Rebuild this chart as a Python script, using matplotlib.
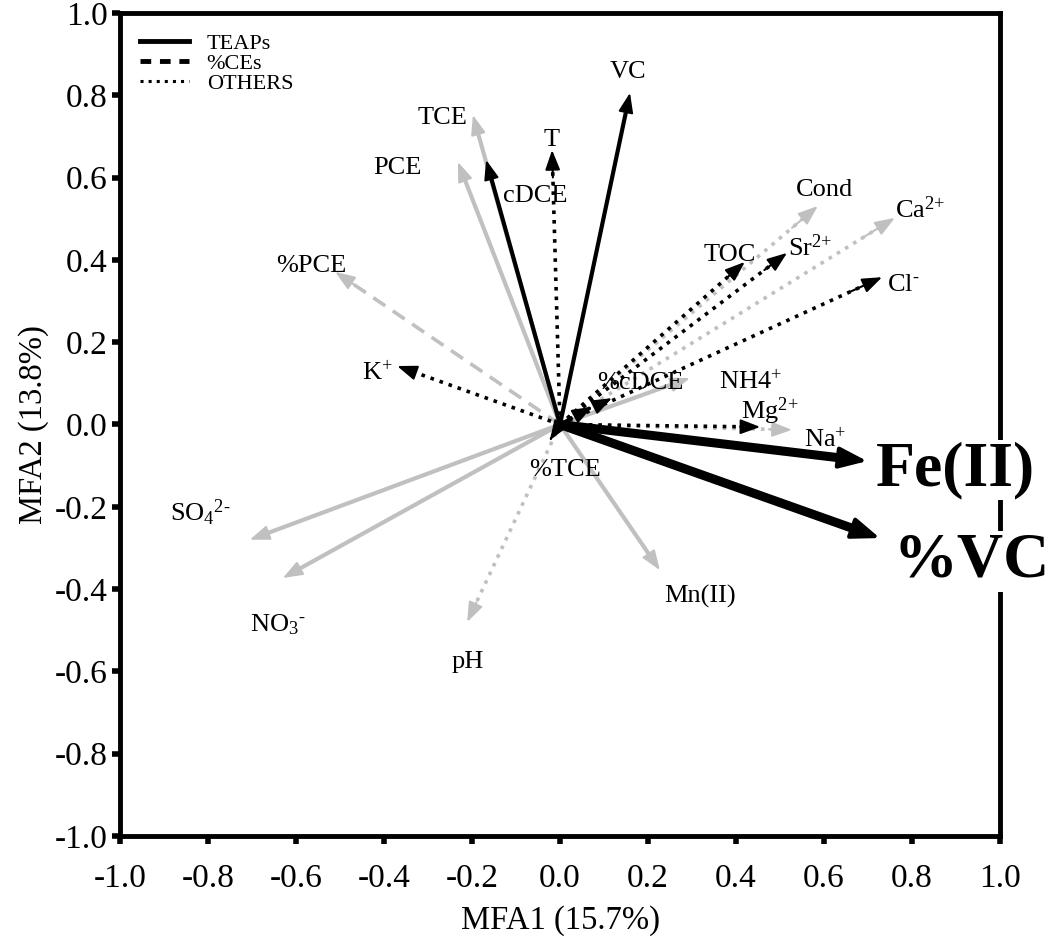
import matplotlib
matplotlib.use('Agg')
import matplotlib.pyplot as plt
from matplotlib.lines import Line2D

plt.rcParams['font.family'] = ['Liberation Serif', 'DejaVu Serif']
plt.rcParams['mathtext.fontset'] = 'custom'
plt.rcParams['mathtext.rm'] = 'Liberation Serif'
plt.rcParams['mathtext.default'] = 'regular'

# 變數名稱、座標 (MFA1, MFA2)、樣式
names = ['VC', 'cDCE', 'Fe(II)', '%VC',
         'TCE', 'PCE', 'NH4$^{\\text{+}}$', 'SO$_4$$^{\\text{2-}}$', 'NO$_3$$^{\\text{-}}$', 'Mn(II)',
         'T', 'K$^{\\text{+}}$', 'TOC', 'Sr$^{\\text{2+}}$', 'Cl$^{\\text{-}}$', 'Mg$^{\\text{2+}}$',
         '%cDCE', '',
         'Cond', 'Ca$^{\\text{2+}}$', 'Na$^{\\text{+}}$', 'pH',
         '%PCE', '%TCE']
mfa1 = [0.159, -0.168, 0.698, 0.727,
        -0.198, -0.232, 0.295, -0.705, -0.630, 0.227,
        -0.018, -0.370, 0.420, 0.516, 0.732, 0.455, 0.118, 0.073,
        0.586, 0.761, 0.527, -0.211,
        -0.511, -0.023]
mfa2 = [0.806, 0.643, -0.089, -0.276,
        0.752, 0.638, 0.113, -0.280, -0.373, -0.354,
        0.667, 0.142, 0.395, 0.417, 0.358, -0.006, 0.064, 0.043,
        0.531, 0.502, -0.013, -0.480,
        0.371, -0.038]
styles = ['kS', 'kS', 'kB', 'kB',
          'gS', 'gS', 'gS', 'gS', 'gS', 'gS',
          'kD', 'kD', 'kD', 'kD', 'kD', 'kD', 'kD', 'kA',
          'gD', 'gD', 'gD', 'gD',
          'gA', 'kA']

# 標籤位置
label_xy = [(0.155, 0.857), (-0.057, 0.555), (0.898, -0.111), (0.935, -0.333),
            (-0.268, 0.745), (-0.37, 0.623), (0.432, 0.102), (-0.818, -0.215),
            (-0.641, -0.487), (0.318, -0.419),
            (-0.018, 0.691), (-0.414, 0.125), (0.386, 0.412), (0.568, 0.429),
            (0.78, 0.339), (0.477, 0.033), (0.182, 0.101), None,
            (0.602, 0.57), (0.818, 0.521), (0.602, -0.038), (-0.209, -0.577),
            (-0.566, 0.385), (0.011, -0.111)]

GREY = '#c0c0c0'

fig = plt.figure(figsize=(10.5, 9.41), dpi=100)
ax = fig.add_axes([0.1143, 0.1116, 0.8381, 0.8746])

for x, y, st in zip(mfa1, mfa2, styles):
    color = 'black' if st[0] == 'k' else GREY
    kind = st[1]
    lw = {'S': 3.0, 'B': 6.5, 'D': 2.6, 'A': 2.6}[kind]
    ls = {'S': '-', 'B': '-', 'D': ':', 'A': (0, (4, 2.5))}[kind]
    z = 3 if color == 'black' else 2
    # 箭桿
    f = 0.94 if kind != 'B' else 0.93
    ax.plot([0, x * f], [0, y * f], color=color, lw=lw, ls=ls,
            solid_capstyle='butt', zorder=z)
    # 箭頭
    hl = 1.2 if kind != 'B' else 1.7
    hw = 0.45 if kind != 'B' else 0.65
    ax.annotate('', xy=(x, y), xytext=(x * 0.9, y * 0.9),
                arrowprops=dict(arrowstyle=f'-|>,head_length={hl},head_width={hw}',
                                color=color, lw=1.5 if kind != 'B' else 3,
                                shrinkA=0, shrinkB=0),
                zorder=z)

for nm, pos in zip(names, label_xy):
    if pos is None:
        continue
    if nm in ('Fe(II)', '%VC'):
        ax.text(pos[0], pos[1], nm, fontsize=46, fontweight='bold', ha='center',
                va='center', zorder=6, clip_on=False,
                bbox=dict(facecolor='white', edgecolor='none', pad=1))
    else:
        ax.text(pos[0], pos[1], nm, fontsize=19, ha='center', va='center', zorder=5)

ax.set_xlim(-1, 1)
ax.set_ylim(-1, 1)
ticks = [-1.0, -0.8, -0.6, -0.4, -0.2, 0.0, 0.2, 0.4, 0.6, 0.8, 1.0]
ax.set_xticks(ticks)
ax.set_yticks(ticks)
ax.set_xticklabels([f'{t:.1f}' for t in ticks])
ax.set_yticklabels([f'{t:.1f}' for t in ticks])
ax.tick_params(direction='out', length=6, width=4, labelsize=24)
ax.tick_params(axis='x', pad=14)
ax.tick_params(axis='y', pad=3)
for s in ax.spines.values():
    s.set_linewidth(3.5)
    s.set_zorder(4)
ax.set_xlabel('MFA1 (15.7%)', fontsize=23.5, labelpad=8)
ax.set_ylabel('MFA2 (13.8%)', fontsize=23.5, labelpad=4)

handles = [Line2D([], [], color='black', lw=3.5, ls='-'),
           Line2D([], [], color='black', lw=3.5, ls=(0, (2.2, 1.8))),
           Line2D([], [], color='black', lw=2.2, ls=':')]
ax.legend(handles, ['TEAPs', '%CEs', 'OTHERS'], loc='upper left', frameon=False,
          fontsize=16, handlelength=2.2, labelspacing=-0.02, borderaxespad=0.2,
          handletextpad=0.8, borderpad=0.7)

fig.savefig('out.png', dpi=100)
